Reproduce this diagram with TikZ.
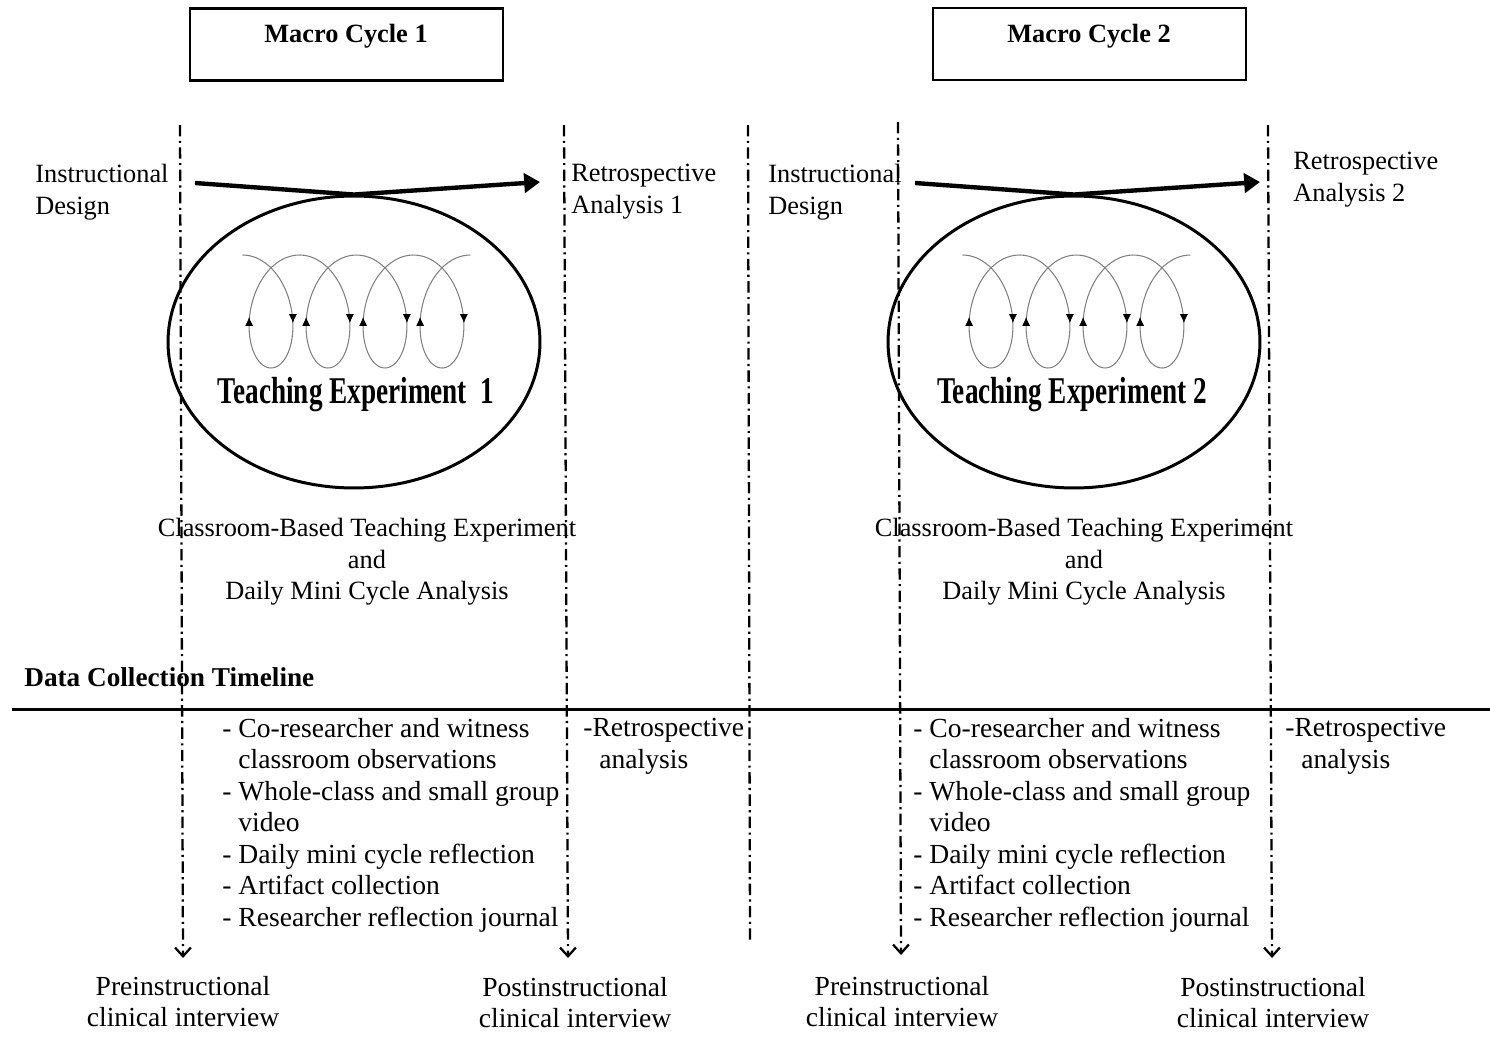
\documentclass[tikz,border=0pt]{standalone}
\usepackage{fontspec}
\setmainfont{Liberation Serif}
\newfontfamily\narrowfont{Liberation Serif}[FakeStretch=0.72]
\usetikzlibrary{arrows.meta,shapes.geometric}

\begin{document}
\begin{tikzpicture}[x=0.02cm, y=-0.02cm, % 1単位 = 参照画像の1px
  txt/.style={font=\fontsize{15}{17.9}\selectfont, inner sep=0pt},
  listtxt/.style={font=\fontsize{15.7}{17.9}\selectfont, inner sep=0pt},
  boldtxt/.style={font=\fontsize{15}{18}\selectfont\bfseries, inner sep=0pt},
  macrobox/.style={draw, line width=1.4pt, minimum width=6.26cm, minimum height=1.44cm},
  cycleoval/.style={ellipse, draw, line width=1.7pt, minimum width=7.44cm, minimum height=5.84cm, inner sep=0pt},
  timeline/.style={line width=1.3pt, dash pattern=on 6.5pt off 2.5pt on 1.2pt off 2.5pt, -{Straight Barb[length=5pt,width=9pt,line width=1.3pt]}},
  bigarrow/.style={line width=2.5pt, -{Triangle[length=9pt,width=11pt]}},
  spiral/.style={gray, line width=0.6pt},
  spiraltip/.style={line width=0.4pt, -{Latex[length=5pt,width=4.5pt]}}]
  \useasboundingbox (0,0) rectangle (1490,1041); % 余白込みの大きさ

  % 上の箱
  \node[macrobox] (mc1) at (346.5,44.5) {};
  \node[boldtxt, anchor=base] (mc1t) at (346,42) {Macro Cycle 1};
  \node[macrobox] (mc2) at (1089.5,44) {};
  \node[boldtxt, anchor=base] (mc2t) at (1089,42) {Macro Cycle 2};

  % 縦の一点鎖線
  \coordinate (l1t) at (180,125); \coordinate (l1b) at (183,958);
  \coordinate (l2t) at (564,125); \coordinate (l2b) at (568,958);
  \coordinate (l3t) at (748,125); \coordinate (l3b) at (750,940);
  \coordinate (l4t) at (898,122); \coordinate (l4b) at (901,955);
  \coordinate (l5t) at (1268,125); \coordinate (l5b) at (1272,958);
  \draw[timeline] (l1t) -- (l1b);
  \draw[timeline] (l2t) -- (l2b);
  \draw[timeline, -] (l3t) -- (l3b); % 矢印なし
  \draw[timeline] (l4t) -- (l4b);
  \draw[timeline] (l5t) -- (l5b);

  % 楕円と矢印
  \node[cycleoval] (cyc1) at (354,342) {};
  \node[cycleoval] (cyc2) at (1074,342) {};
  \coordinate (a1s) at (195,183); \coordinate (a1e) at (540,182);
  \coordinate (a2s) at (915,183); \coordinate (a2e) at (1260,182);
  \draw[bigarrow] (a1s) -- (cyc1.north) -- (a1e);
  \draw[bigarrow] (a2s) -- (cyc2.north) -- (a2e);

  % ループ（トロコイド）
  \draw[spiral, domain=0:25.133, samples=320, smooth, variable=\t]
    plot ({242.5+9.07*\t+35*sin(\t r)}, {311.5-56.5*cos(\t r)});
  \draw[spiral, domain=0:25.133, samples=320, smooth, variable=\t]
    plot ({962.5+9.07*\t+35*sin(\t r)}, {311.5-56.5*cos(\t r)});
  \foreach \dx in {0,720} {
    \foreach \k in {0,...,3} {
      \draw[spiraltip] ({292.9+57*\k+\dx},314) -- ({292.9+57*\k+\dx},323); % 下向き
      \draw[spiraltip] ({249.1+57*\k+\dx},326) -- ({249.1+57*\k+\dx},317); % 上向き
    }
  }

  \node[font={\narrowfont\bfseries\fontsize{21.5}{24}\selectfont}, anchor=base, inner sep=0pt] (te1) at (356,403) {Teaching Experiment\ \ 1};
  \node[font={\narrowfont\bfseries\fontsize{21.5}{24}\selectfont}, anchor=base, inner sep=0pt] (te2) at (1072,403) {Teaching Experiment 2};

  % ラベル
  \node[txt, anchor=north west, align=left] (instr1) at (35,164) {Instructional\\Design};
  \node[txt, anchor=north west, align=left] (retro1) at (571,164) {Retrospective\\Analysis 1};
  \node[txt, anchor=north west, align=left] (instr2) at (768,164) {Instructional\\Design};
  \node[txt, anchor=north west, align=left] (retro2) at (1293,152) {Retrospective\\Analysis 2};
  \node[txt, anchor=north, align=center] (cls1) at (367,518) {Classroom-Based Teaching Experiment\\and\\Daily Mini Cycle Analysis};
  \node[txt, anchor=north, align=center] (cls2) at (1084,518) {Classroom-Based Teaching Experiment\\and\\Daily Mini Cycle Analysis};

  % データ収集の時間軸
  \node[boldtxt, font=\fontsize{15.5}{18}\selectfont\bfseries, anchor=base west] (dct) at (24,686) {Data Collection Timeline};
  \coordinate (h1) at (12,709); \coordinate (h2) at (1490,709);
  \draw[line width=1.7pt] (h1) -- (h2);

  \node[listtxt, anchor=north west, align=left] (obs1) at (222,718) {- Co-researcher and witness\\\phantom{- }classroom observations\\- Whole-class and small group\\\phantom{- }video\\- Daily mini cycle reflection\\- Artifact collection\\- Researcher reflection journal};
  \node[listtxt, anchor=north west, align=left] (ra1) at (583,718) {-Retrospective\\\phantom{- }analysis};
  \node[listtxt, anchor=north west, align=left] (obs2) at (913,718) {- Co-researcher and witness\\\phantom{- }classroom observations\\- Whole-class and small group\\\phantom{- }video\\- Daily mini cycle reflection\\- Artifact collection\\- Researcher reflection journal};
  \node[listtxt, anchor=north west, align=left] (ra2) at (1285,718) {-Retrospective\\\phantom{- }analysis};

  \node[listtxt, anchor=north, align=center] (pre1) at (183,976) {Preinstructional\\clinical interview};
  \node[listtxt, anchor=north, align=center] (post1) at (575,977) {Postinstructional\\clinical interview};
  \node[listtxt, anchor=north, align=center] (pre2) at (902,976) {Preinstructional\\clinical interview};
  \node[listtxt, anchor=north, align=center] (post2) at (1273,977) {Postinstructional\\clinical interview};
\end{tikzpicture}
\end{document}
